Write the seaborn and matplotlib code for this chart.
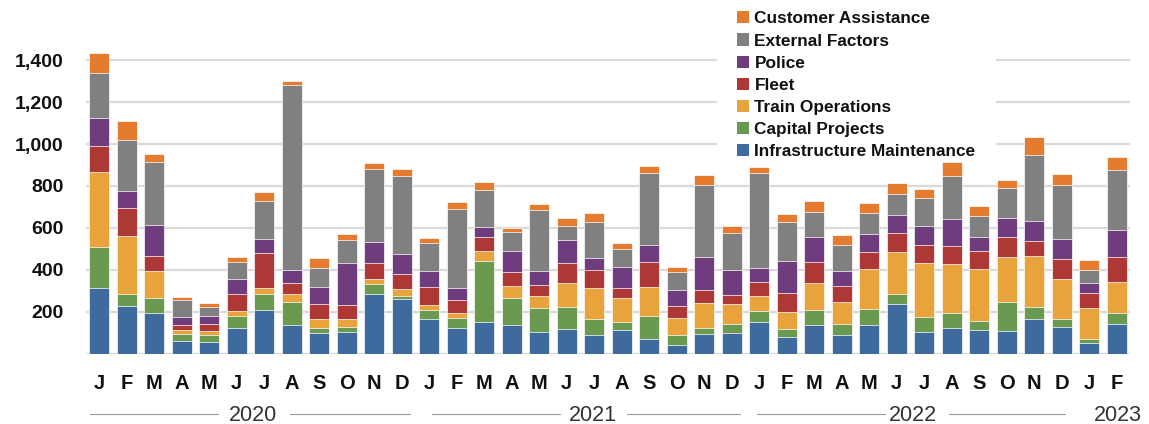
import numpy as np
import pandas as pd
import matplotlib
matplotlib.use("Agg")
import matplotlib.pyplot as plt
import matplotlib.transforms as mtransforms
from matplotlib.patches import Patch
import seaborn as sns

# Monthly delay counts by responsible group, Jan 2020 - Feb 2023
month_letters = ["J", "F", "M", "A", "M", "J", "J", "A", "S", "O", "N", "D"] * 3 + ["J", "F"]

infrastructure = [313, 229, 194, 60, 56, 124, 208, 135, 100, 103, 282, 258,
                  164, 123, 150, 134, 103, 116, 86, 113, 68, 41, 94, 97,
                  150, 78, 134, 86, 136, 237, 105, 122, 114, 108, 165, 128,
                  52, 143]
capital = [195, 54, 70, 32, 33, 53, 75, 112, 23, 24, 49, 16,
           43, 46, 291, 132, 113, 105, 80, 37, 109, 48, 27, 45,
           51, 41, 76, 56, 77, 48, 70, 72, 42, 140, 58, 39,
           19, 51]
train_ops = [361, 276, 131, 19, 19, 25, 32, 35, 41, 37, 26, 32,
             27, 24, 48, 54, 58, 115, 148, 117, 141, 81, 121, 95,
             73, 80, 127, 103, 191, 198, 257, 234, 248, 211, 241, 191,
             144, 147]
fleet = [123, 137, 73, 27, 34, 83, 166, 54, 73, 67, 74, 74,
         83, 63, 68, 70, 52, 94, 87, 48, 121, 59, 60, 40,
         67, 92, 102, 77, 83, 94, 87, 83, 87, 99, 75, 91,
         75, 121]
police = [133, 78, 145, 37, 36, 73, 65, 63, 80, 202, 102, 94,
          79, 56, 46, 99, 70, 113, 56, 96, 78, 72, 160, 123,
          68, 150, 115, 73, 83, 86, 88, 130, 65, 87, 95, 99,
          49, 128]
external = [215, 245, 301, 81, 42, 80, 183, 884, 92, 108, 347, 374,
            132, 379, 178, 89, 290, 65, 173, 89, 346, 86, 342, 176,
            454, 188, 124, 125, 99, 97, 136, 209, 101, 144, 315, 259,
            62, 284]
customer = [96, 89, 41, 16, 20, 24, 43, 19, 46, 32, 30, 31,
            23, 32, 39, 22, 30, 37, 40, 30, 33, 27, 47, 32,
            27, 36, 48, 45, 50, 55, 44, 65, 46, 40, 86, 49,
            45, 63]

series_names = ["Infrastructure Maintenance", "Capital Projects", "Train Operations",
                "Fleet", "Police", "External Factors", "Customer Assistance"]
series_values = [infrastructure, capital, train_ops, fleet, police, external, customer]
series_colors = ["#3F6A9E", "#6A9A50", "#E8A33D", "#AD3835", "#6F3D7D", "#808080", "#E57B2F"]

year_labels = ["2020", "2021", "2022", "2023"]
year_label_x = [5.6, 17.95, 29.6, 37.05]
year_rules = [[(-0.34, 4.32), (6.93, 11.3)],
              [(12.1, 16.75), (19.2, 23.3)],
              [(23.9, 28.57), (30.9, 35.1)],
              []]

yticks = [0, 200, 400, 600, 800, 1000, 1200, 1400]

sns.set_theme(style="white")
plt.rcParams["font.family"] = ["Liberation Sans", "DejaVu Sans"]

df = pd.DataFrame(dict(zip(series_names, series_values)))
df["idx"] = np.arange(len(df))
cum = df[series_names].cumsum(axis=1)
cum["idx"] = df["idx"]

W, H = 1149, 424
fig = plt.figure(figsize=(W / 100, H / 100), dpi=100)
ax = fig.add_axes([86 / W, 1 - 353.5 / H, 1044 / W, 314.1 / H])

# Stack by drawing cumulative totals from the top layer down
for name, color in reversed(list(zip(series_names, series_colors))):
    sns.barplot(data=cum, x="idx", y=name, color=color, saturation=1,
                width=0.73, errorbar=None, edgecolor="white", linewidth=0.5,
                ax=ax)

ax.set_xlim(-0.48, len(df) - 0.52)
ax.set_ylim(0, 1500)
ax.set_xlabel("")
ax.set_ylabel("")
sns.despine(ax=ax, left=True, bottom=True)

ax.set_yticks(yticks)
ax.set_yticklabels(["" if v == 0 else f"{v:,}" for v in yticks],
                   fontsize=14, fontweight="bold", color="#111111")
ax.set_xticks(df["idx"])
ax.set_xticklabels(month_letters, fontsize=14.5, fontweight="bold", color="#111111")
ax.tick_params(axis="y", length=0, pad=16)
ax.tick_params(axis="x", length=0, pad=15)
ax.yaxis.grid(True, color="#d9d9d9", linewidth=1.6)
ax.set_axisbelow(True)

# Year captions with rules below the month letters
trans = mtransforms.blended_transform_factory(ax.transData, fig.transFigure)
for label, xpos, rules in zip(year_labels, year_label_x, year_rules):
    ax.text(xpos, 1 - 421 / H, label, transform=trans, ha="center", va="baseline",
            fontsize=15.5, color="#333333", clip_on=False)
    for x0, x1 in rules:
        ax.plot([x0, x1], [1 - 414 / H] * 2, transform=trans, color="#9a9a9a",
                linewidth=0.8, clip_on=False)

handles = [Patch(facecolor=c, edgecolor="none", label=n)
           for n, c in zip(reversed(series_names), reversed(series_colors))]
leg = ax.legend(handles=handles, loc="upper left", bbox_to_anchor=(716.5 / W, 1.022),
                bbox_transform=fig.transFigure, borderaxespad=0, frameon=True,
                facecolor="white", edgecolor="none", framealpha=1, fancybox=False,
                borderpad=1.2, handlelength=0.7, handleheight=0.7, handletextpad=0.3,
                labelspacing=0.41, prop={"size": 12.4, "weight": "bold"})
for t in leg.get_texts():
    t.set_color("#111111")
# Legend box hides the gridlines but sits beneath the bars
leg.set_zorder(0.8)

fig.savefig("out.png", dpi=100)
